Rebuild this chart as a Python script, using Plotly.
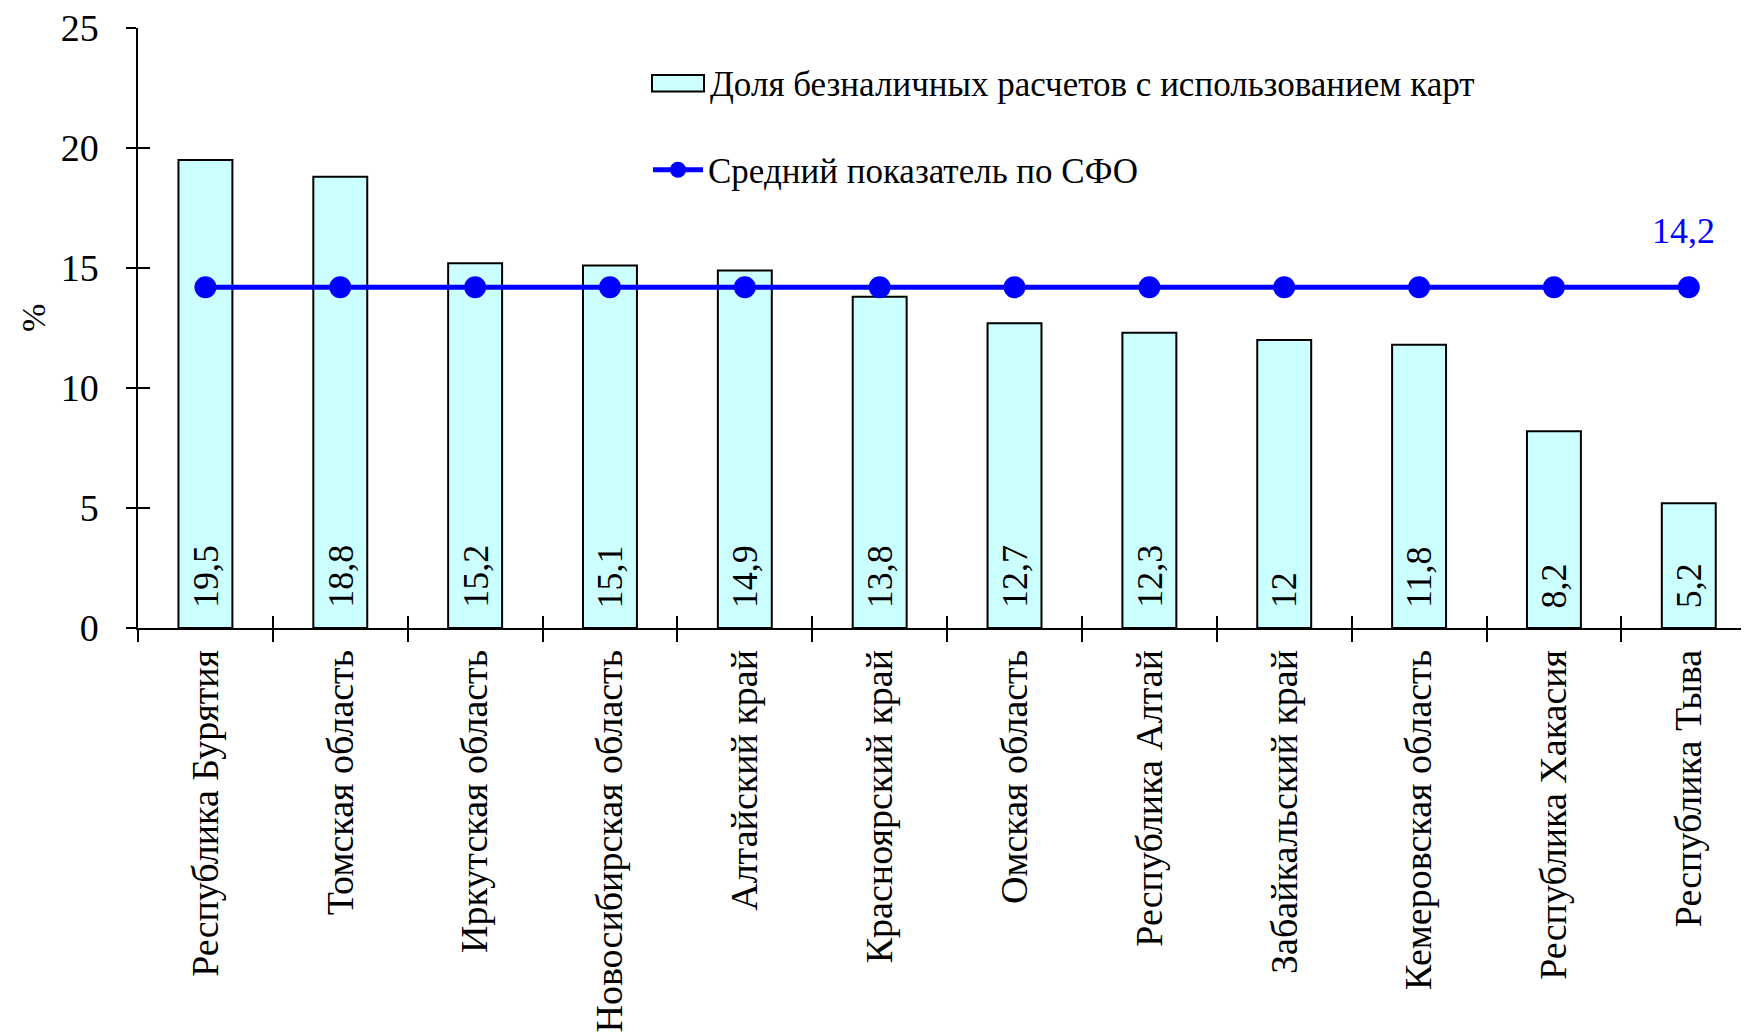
import plotly.graph_objects as go

regions = ["Республика Бурятия", "Томская область", "Иркутская область",
           "Новосибирская область", "Алтайский край", "Красноярский край",
           "Омская область", "Республика Алтай", "Забайкальский край",
           "Кемеровская область", "Республика Хакасия", "Республика Тыва"]
card_share = [19.5, 18.8, 15.2, 15.1, 14.9, 13.8, 12.7, 12.3, 12.0, 11.8, 8.2, 5.2]
sfo_average = [14.2] * 12
y_ticks = [0, 5, 10, 15, 20, 25]

bar_name = "Доля безналичных расчетов с использованием карт"
line_name = "Средний показатель по СФО"
y_title = "%"

FONT = "Liberation Serif, Times New Roman, serif"
BAR_FILL = "#CCFFFF"
BLUE = "#0000FF"
W, H = 1749, 1034
OFF = 8                      # default page body margin of the html page
L, T = 138 - OFF, 28 - OFF
plot_h = 600
B = H - T - plot_h
plot_w = W - L
cat_px = 134.85
x_hi = -0.5 + plot_w / cat_px
y_range = [0, 25]


def px_x(page_x):
    return (page_x - OFF - L) / plot_w


def px_y(page_y):
    return (H - B - (page_y - OFF)) / plot_h


def fmt(v):
    return ("%g" % v).replace(".", ",")


fig = go.Figure()
fig.add_trace(go.Bar(
    x=regions, y=card_share, name=bar_name, width=0.4,
    marker=dict(color=BAR_FILL, line=dict(color="black", width=2)),
    showlegend=False,
))
fig.add_trace(go.Scatter(
    x=regions, y=sfo_average, name=line_name, mode="lines+markers",
    line=dict(color=BLUE, width=5),
    marker=dict(color=BLUE, size=22),
))

annotations = []
for r, v in zip(regions, card_share):
    annotations.append(dict(
        x=r, y=0, xref="x", yref="y", text=fmt(v), showarrow=False,
        textangle=-90, yanchor="bottom", xanchor="center", yshift=18,
        font=dict(family=FONT, size=36, color="black"),
    ))
annotations.append(dict(
    x=regions[-1], y=sfo_average[-1], xref="x", yref="y", text=fmt(sfo_average[-1]),
    showarrow=False, yshift=56, xshift=-5,
    font=dict(family=FONT, size=36, color=BLUE),
))
# legend entry for the bar series (wide rectangle swatch like the original)
annotations.append(dict(
    x=px_x(708), y=px_y(84), xref="paper", yref="paper", text=bar_name,
    showarrow=False, xanchor="left", yanchor="middle",
    font=dict(family=FONT, size=35, color="black"),
))
annotations.append(dict(
    x=px_x(34), y=px_y(318), xref="paper", yref="paper", text=y_title,
    showarrow=False, xanchor="center", yanchor="middle", textangle=-90,
    font=dict(family=FONT, size=34, color="black"),
))

shapes = [dict(
    type="rect", xref="paper", yref="paper",
    x0=px_x(652), x1=px_x(704), y0=px_y(91.5), y1=px_y(75),
    fillcolor=BAR_FILL, line=dict(color="black", width=2),
)]

fig.update_layout(
    width=W, height=H,
    margin=dict(l=L, r=0, t=T, b=B, pad=0, autoexpand=False),
    paper_bgcolor="white", plot_bgcolor="white",
    font=dict(family=FONT, size=36, color="black"),
    showlegend=True,
    legend=dict(
        x=px_x(648), y=px_y(170), xanchor="left", yanchor="middle",
        bgcolor="rgba(0,0,0,0)", borderwidth=0,
        font=dict(family=FONT, size=35, color="black"),
        itemwidth=50,
    ),
    annotations=annotations,
    shapes=shapes,
    xaxis=dict(
        type="category", categoryorder="array", categoryarray=regions,
        range=[-0.5, x_hi], showline=True, linecolor="black", linewidth=1.5,
        ticks="outside", ticklen=12, tickwidth=1.5, tickcolor="black",
        tickson="boundaries", tickangle=-90, showgrid=False, zeroline=False,
        tickfont=dict(family=FONT, size=38), ticklabelstandoff=5,
        automargin=False, ticklabeloverflow="allow",
    ),
    yaxis=dict(
        range=y_range, tickvals=y_ticks, showline=True, linecolor="black",
        linewidth=1.5, ticks="outside", ticklen=10, tickwidth=1.5, tickcolor="black",
        showgrid=False, zeroline=False, tickfont=dict(family=FONT, size=38),
        ticklabelstandoff=20, automargin=False, ticklabeloverflow="allow",
    ),
    xaxis2=dict(
        overlaying="x", range=[-0.5, x_hi], showline=False,
        tickvals=[i - 0.5 for i in range(len(regions) + 1)],
        ticks="inside", ticklen=12, tickwidth=1.5, tickcolor="black",
        showticklabels=False, showgrid=False, zeroline=False, automargin=False,
    ),
    yaxis2=dict(
        overlaying="y", range=y_range, tickvals=y_ticks, showline=False,
        ticks="inside", ticklen=12, tickwidth=1.5, tickcolor="black",
        showticklabels=False, showgrid=False, zeroline=False, automargin=False,
    ),
)
# invisible trace to activate the overlay tick axes
fig.add_trace(go.Scatter(x=[0], y=[0], xaxis="x2", yaxis="y2", mode="markers",
                         marker=dict(opacity=0), showlegend=False, hoverinfo="skip"))

fig.write_html("out.html")
